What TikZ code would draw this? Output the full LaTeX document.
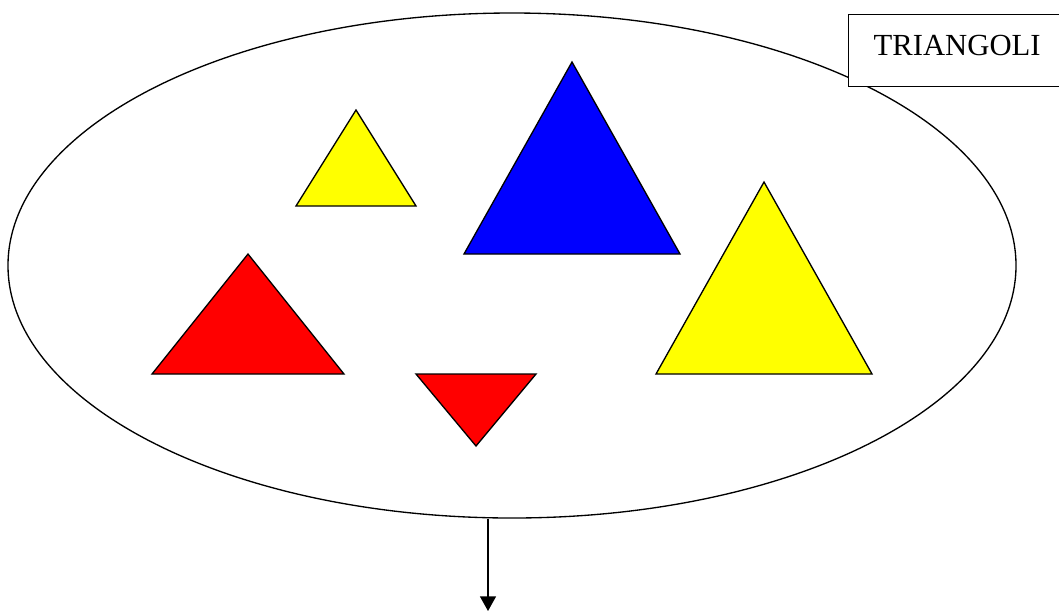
\documentclass[tikz,border=0pt]{standalone}
\usepackage{fontspec}
\setmainfont{Liberation Serif}
\usetikzlibrary{shapes.geometric,arrows.meta}
\definecolor{triyellow}{RGB}{255,255,0}
\definecolor{triblue}{RGB}{0,0,255}
\definecolor{trired}{RGB}{255,0,0}
\begin{document}
\begin{tikzpicture}[x=0.75pt, y=-0.75pt, line width=1pt,
  tri/.style={draw=black, line join=miter},
  tagbox/.style={draw, fill=white, anchor=north west, inner xsep=18.75pt, inner ysep=0pt,
    text width=129pt, align=left,
    text height=30.75pt, text depth=23.25pt, font=\fontsize{23}{27}\selectfont}]
\useasboundingbox (0,0) rectangle (1059,612);
\node[ellipse, draw, inner sep=0pt, minimum width=756pt, minimum height=378.75pt] (set) at (512,265.5) {};
\filldraw[tri, fill=triyellow] (356,110) -- (296,206) -- (416,206) -- cycle;
\filldraw[tri, fill=triblue] (572,62) -- (464,254) -- (680,254) -- cycle;
\filldraw[tri, fill=trired] (248,254) -- (152,374) -- (344,374) -- cycle;
\filldraw[tri, fill=trired] (416,374) -- (536,374) -- (476,446) -- cycle;
\filldraw[tri, fill=triyellow] (764,182) -- (656,374) -- (872,374) -- cycle;
\node[tagbox] (tag) at (848,14) {TRIANGOLI};
\coordinate (down) at (488,611);
\draw[-{Triangle[width=12pt, length=11pt]}] (set.south -| down) -- (down);
\end{tikzpicture}
\end{document}
